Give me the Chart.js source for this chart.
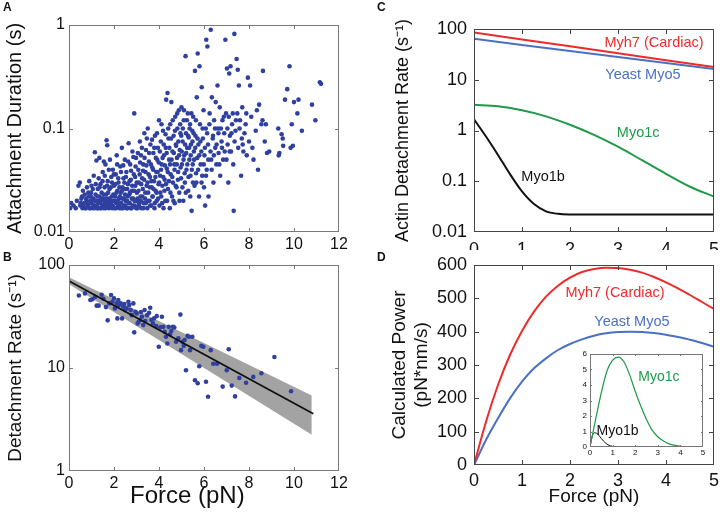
<!DOCTYPE html>
<html>
<head>
<meta charset="utf-8">
<script src="https://cdn.jsdelivr.net/npm/chart.js@4.4.1/dist/chart.umd.min.js"></script>
<style>
  html, body { margin: 0; padding: 0; background: #fff; }
  body { width: 720px; height: 512px; position: relative; overflow: hidden; font-family: "Liberation Sans", Arial, sans-serif; }
  canvas { position: absolute; }
  .tag { position: absolute; font-weight: bold; font-size: 12px; color: #111; }
</style>
</head>
<body>
<canvas id="chartA" width="360" height="250" style="left:0;top:0"></canvas>
<canvas id="chartB" width="360" height="262" style="left:0;top:250px"></canvas>
<canvas id="chartC" width="360" height="250" style="left:360px;top:0"></canvas>
<canvas id="chartD" width="360" height="262" style="left:360px;top:250px"></canvas>
<canvas id="chartInset" width="135" height="112" style="left:575px;top:346px"></canvas>
<div class="tag" style="left:3px;top:0px">A</div>
<div class="tag" style="left:3px;top:250px">B</div>
<div class="tag" style="left:377px;top:0px">C</div>
<div class="tag" style="left:377px;top:250px">D</div>
<script>
// ---- data ----
// panel A: [force pN, attachment duration s]
const attachPts = [
  [0.05,0.017],[0.1,0.019],[0.2,0.018],[0.3,0.017],[0.35,0.02],[0.42,0.028],[0.48,0.03],[0.5,0.018],[0.55,0.021],[0.6,0.017],
  [0.62,0.025],[0.68,0.019],[0.7,0.023],[0.75,0.017],[0.78,0.02],[0.8,0.027],[0.85,0.018],[0.88,0.022],[0.9,0.031],[0.92,0.017],
  [0.95,0.02],[0.98,0.024],[1.0,0.019],[1.0,0.028],
  [1.05,0.017],[1.08,0.021],[1.1,0.035],[1.12,0.018],[1.15,0.059],[1.18,0.023],[1.2,0.02],[1.22,0.049],[1.25,0.017],[1.28,0.026],
  [1.3,0.019],[1.32,0.033],[1.35,0.022],[1.35,0.052],[1.38,0.017],[1.4,0.029],[1.42,0.02],[1.45,0.024],[1.48,0.018],[1.5,0.038],
  [1.52,0.021],[1.55,0.017],[1.55,0.048],[1.58,0.027],[1.6,0.019],[1.62,0.045],[1.65,0.023],[1.67,0.077],[1.68,0.018],[1.7,0.069],
  [1.72,0.031],[1.75,0.02],[1.78,0.017],[1.8,0.026],[1.82,0.05],[1.85,0.019],[1.88,0.034],[1.9,0.022],[1.92,0.017],[1.95,0.04],
  [1.98,0.02],[2.0,0.028],
  [2.02,0.017],[2.05,0.022],[2.08,0.036],[2.1,0.019],[2.12,0.055],[2.15,0.025],[2.18,0.018],[2.2,0.03],[2.22,0.021],[2.25,0.017],
  [2.28,0.043],[2.3,0.024],[2.32,0.019],[2.35,0.065],[2.38,0.027],[2.4,0.017],[2.42,0.033],[2.45,0.021],[2.48,0.05],[2.5,0.018],
  [2.52,0.026],[2.55,0.038],[2.58,0.02],[2.6,0.017],[2.62,0.029],[2.65,0.072],[2.68,0.023],[2.7,0.019],[2.72,0.045],[2.75,0.032],
  [2.78,0.017],[2.8,0.025],[2.82,0.06],[2.85,0.021],[2.88,0.036],[2.9,0.14],[2.92,0.018],[2.95,0.028],[2.98,0.052],[3.0,0.02],
  [3.02,0.024],[3.05,0.017],[3.08,0.04],[3.1,0.03],[3.12,0.019],[3.15,0.075],[3.18,0.022],[3.2,0.055],[3.22,0.017],[3.25,0.033],
  [3.28,0.026],[3.3,0.045],[3.32,0.019],[3.35,0.09],[3.38,0.021],[3.4,0.038],[3.42,0.062],[3.45,0.028],[3.48,0.017],[3.5,0.1],
  [3.52,0.024],[3.55,0.048],[3.58,0.02],[3.6,0.034],[3.62,0.07],[3.65,0.018],[3.68,0.027],[3.7,0.042],[3.72,0.022],[3.75,0.058],
  [3.78,0.031],[3.8,0.017],[3.82,0.085],[3.85,0.025],[3.88,0.038],[3.9,0.02],[3.92,0.05],[3.95,0.065],[3.98,0.029],[4.0,0.12],
  [4.02,0.018],[4.05,0.035],[4.08,0.075],[4.1,0.022],[4.12,0.045],[4.15,0.028],[4.18,0.095],[4.2,0.017],[4.22,0.055],[4.25,0.032],
  [4.28,0.02],[4.3,0.065],[4.32,0.19],[4.35,0.041],[4.38,0.22],[4.4,0.026],[4.42,0.08],[4.45,0.05],[4.48,0.017],[4.5,0.11],
  [4.52,0.036],[4.55,0.18],[4.58,0.022],[4.6,0.06],[4.62,0.03],[4.65,0.085],[4.68,0.045],[4.7,0.019],[4.72,0.13],[4.75,0.07],
  [4.78,0.027],[4.8,0.052],[4.82,0.1],[4.85,0.038],[4.88,0.15],[4.9,0.024],[4.92,0.062],[4.95,0.09],[4.98,0.033],[5.0,0.16],
  [5.02,0.045],[5.05,0.075],[5.08,0.02],[5.1,0.12],[5.12,0.055],[5.15,0.03],[5.18,0.5],[5.2,0.09],[5.22,0.04],[5.25,0.065],
  [5.28,0.14],[5.3,0.025],[5.32,0.082],[5.35,0.05],[5.38,0.11],[5.4,0.035],[5.42,0.07],[5.45,0.016],[5.48,0.095],[5.5,0.045],
  [5.52,0.13],[5.55,0.06],[5.58,0.028],[5.6,0.36],[5.62,0.085],[5.65,0.037],[5.68,0.2],[5.7,0.052],[5.72,0.53],[5.75,0.07],
  [5.78,0.022],[5.8,0.4],[5.82,0.11],[5.85,0.045],[5.88,0.06],[5.9,0.25],[5.92,0.035],[5.95,0.08],[5.98,0.15],[6.0,0.027],
  [6.02,0.055],[6.05,0.018],[6.08,0.1],[6.1,0.72],[6.12,0.04],[6.15,0.62],[6.18,0.07],[6.2,0.022],[6.25,0.14],[6.3,0.9],
  [6.32,0.05],[6.35,0.2],[6.4,0.085],[6.42,0.03],[6.45,0.12],[6.5,0.065],[6.52,0.18],[6.55,0.045],[6.6,0.26],[6.62,0.1],
  [6.65,0.058],[6.7,0.16],[6.72,0.035],[6.78,0.075],[6.82,0.12],[6.85,0.05],[6.9,0.09],[6.95,0.72],[6.98,0.14],
  [7.0,0.05],[7.02,0.38],[7.05,0.07],[7.08,0.03],[7.1,0.13],[7.12,0.34],[7.15,0.085],[7.18,0.4],[7.2,0.06],[7.25,0.11],
  [7.3,0.045],[7.32,0.016],[7.35,0.82],[7.4,0.095],[7.45,0.47],[7.48,0.14],[7.5,0.37],[7.52,0.065],[7.55,0.26],[7.6,0.12],
  [7.65,0.035],[7.7,0.16],[7.72,0.07],[7.8,0.09],[7.85,0.11],[7.9,0.055],[7.95,0.31],[8.0,0.075],
  [8.05,0.26],[8.1,0.13],[8.15,0.065],[8.2,0.05],[8.3,0.095],[8.35,0.15],[8.4,0.04],[8.45,0.17],[8.55,0.11],[8.6,0.12],
  [8.62,0.36],[8.7,0.075],[8.75,0.11],[8.8,0.058],[8.9,0.06],
  [9.3,0.1],[9.32,0.055],[9.35,0.058],[9.45,0.088],[9.5,0.08],[9.52,0.068],[9.6,0.19],[9.7,0.24],[9.8,0.4],[9.85,0.065],
  [9.9,0.11],[9.95,0.068],[10.0,0.18],
  [10.15,0.14],[10.2,0.19],[10.35,0.095],[10.8,0.17],[10.95,0.12],[11.15,0.28],[11.2,0.27],
  // denser core of the cloud
  [0.52,0.019],[0.58,0.022],[0.64,0.018],[0.72,0.017],[0.76,0.021],[0.82,0.019],[0.86,0.024],[0.94,0.017],[0.97,0.022],[1.02,0.02],
  [1.06,0.026],[1.09,0.018],[1.13,0.017],[1.16,0.02],[1.19,0.029],[1.23,0.018],[1.26,0.022],[1.29,0.017],[1.33,0.02],[1.36,0.027],
  [1.39,0.019],[1.43,0.017],[1.46,0.021],[1.49,0.031],[1.51,0.018],
  [1.54,0.023],[1.57,0.02],[1.59,0.035],[1.63,0.017],[1.66,0.021],[1.69,0.028],[1.71,0.019],[1.74,0.024],[1.77,0.04],[1.79,0.021],
  [1.83,0.018],[1.86,0.027],[1.89,0.02],[1.91,0.03],[1.94,0.018],[1.97,0.023],[1.99,0.036],[2.03,0.02],[2.06,0.029],[2.09,0.017],
  [2.11,0.024],[2.14,0.045],[2.16,0.02],[2.19,0.033],[2.21,0.018],[2.24,0.027],[2.26,0.022],[2.29,0.019],[2.31,0.038],[2.33,0.017],
  [2.36,0.025],[2.39,0.021],[2.41,0.044],[2.44,0.018],[2.46,0.03],[2.49,0.023],
  [2.51,0.02],[2.53,0.034],[2.56,0.017],[2.59,0.026],[2.61,0.022],[2.63,0.048],[2.66,0.019],[2.69,0.031],[2.71,0.024],[2.74,0.017],
  [2.76,0.039],[2.79,0.021],[2.81,0.028],[2.84,0.018],[2.86,0.053],[2.89,0.025],[2.91,0.02],[2.94,0.034],[2.96,0.043],[2.99,0.017],
  [3.01,0.03],[3.04,0.021],[3.06,0.058],[3.09,0.025],[3.11,0.018],[3.14,0.036],[3.16,0.047],[3.19,0.02],[3.21,0.029],[3.24,0.065],
  [3.26,0.022],[3.29,0.039],[3.31,0.017],[3.34,0.032],[3.36,0.052],[3.39,0.024],[3.41,0.019],[3.44,0.044],[3.46,0.08],[3.49,0.03],
  [3.51,0.02],[3.54,0.036],[3.56,0.058],[3.59,0.027],[3.61,0.018],[3.64,0.045],[3.66,0.031],[3.69,0.078],[3.71,0.022],[3.74,0.04],
  [3.76,0.026],[3.79,0.065],[3.81,0.019],[3.84,0.034],[3.86,0.052],[3.89,0.024],[3.91,0.09],[3.94,0.038],[3.96,0.021],[3.99,0.047],
  [4.01,0.03],[4.04,0.06],[4.06,0.024],[4.09,0.04],[4.11,0.11],[4.14,0.019],[4.16,0.052],[4.19,0.034],[4.21,0.07],[4.24,0.025],
  [4.26,0.044],[4.29,0.088],[4.31,0.029],[4.34,0.058],[4.36,0.02],[4.39,0.038],[4.41,0.1],[4.44,0.031],[4.46,0.065],[4.49,0.045],
  [4.51,0.024],[4.54,0.08],[4.56,0.05],[4.59,0.034],[4.61,0.12],[4.64,0.02],[4.66,0.058],[4.69,0.04],[4.71,0.095],[4.74,0.028],
  [4.76,0.068],[4.79,0.045],[4.81,0.14],[4.84,0.032],[4.86,0.075],[4.89,0.055],[4.91,0.02],[4.94,0.11],[4.96,0.042],[4.99,0.085],
  [5.01,0.06],[5.04,0.027],[5.06,0.1],[5.09,0.05],[5.11,0.15],[5.14,0.037],[5.16,0.07],[5.19,0.024],[5.21,0.058],[5.24,0.12],
  [5.26,0.045],[5.29,0.085],[5.31,0.034],[5.34,0.065],[5.36,0.1],[5.39,0.022],[5.41,0.055],[5.44,0.14],[5.46,0.04],[5.49,0.075],
  [5.51,0.03],[5.54,0.09],[5.56,0.05],[5.61,0.065],[5.64,0.12],[5.66,0.03],[5.71,0.08],[5.74,0.04],[5.79,0.055],[5.84,0.075],
  [5.89,0.03],[5.94,0.1],[5.99,0.045],[6.04,0.065],[6.09,0.035],[6.14,0.09],[6.19,0.05],[6.24,0.11],[6.29,0.06],[6.34,0.04],
  [6.39,0.08],[6.44,0.055],[6.49,0.1],
  [6.56,0.07],[6.64,0.09],[6.68,0.045],[6.75,0.1],[6.8,0.065],[6.88,0.13],[6.92,0.06],[7.04,0.1],[7.14,0.06],[7.22,0.09],
  [7.28,0.14],[7.36,0.075],[7.42,0.12],[7.58,0.1],[7.68,0.08],[7.75,0.06],[7.88,0.14]
];

// panel B: [force pN, detachment rate 1/s]
const detachPts = [
  [0.44,50.5],[0.71,53],[0.95,45.7],[1.04,46.5],[1.16,49],[1.23,40.3],[1.32,40.3],[1.45,51.5],[1.53,47],[1.64,39],
  [1.72,29],[1.79,42.4],[1.87,51],[1.93,44],[2.0,47.4],[2.04,37.9],[2.12,42.4],[2.15,30.3],[2.19,45.7],[2.22,40.8],
  [2.3,42.4],[2.36,30.3],[2.41,39.3],[2.46,41.8],[2.49,36.5],[2.56,37.9],[2.64,44],[2.68,40.8],[2.74,36.5],[2.79,32.6],
  [2.86,42.4],[2.9,22.2],[2.95,35.2],[3.01,33.9],[3.05,27.1],[3.1,28.1],[3.16,29.2],[3.2,35],[3.24,31.4],[3.3,26.1],
  [3.36,36.5],[3.39,28.6],[3.47,32.6],[3.56,34.3],[3.61,38.4],[3.66,29.2],[3.73,27.1],[3.78,30.3],[3.87,25.5],[3.9,31.9],
  [3.99,16.1],[4.06,24.8],[4.13,31.4],[4.19,25.1],[4.25,22.5],[4.31,20.1],[4.37,17.3],[4.43,25.1],[4.49,21.3],[4.55,22.9],
  [4.62,25.1],[4.68,24.7],[4.76,18.0],[4.86,19.4],[4.95,33],[4.98,14.9],[5.04,18.0],[5.1,16.4],[5.14,18.7],[5.2,9.5],
  [5.27,20.5],[5.33,20.1],[5.38,14.9],[5.48,20.1],[5.6,7.6],[5.72,7.1],[5.79,10.4],[5.88,16.4],[5.97,16.1],[6.09,7.35],
  [6.18,5.25],[6.3,14.9],[6.41,11],[6.58,11],[6.83,6.6],[7.01,9.5],[7.1,15.2],[7.23,6.75],[7.38,5.3],[7.57,8.0],
  [7.87,7.2],[8.19,8.2],[8.55,8.9],[9.13,12.8],[9.87,5.95]
];
const fitForce = [0, 10.86];
const fitRate = [70, 3.6];
const bandForce = [0, 10.79];
const bandUpper = [76, 5.4];
const bandLower = [65, 2.25];

// panel C: detachment rate vs force
const rateForce = [0, 1, 2, 3, 4, 5];
const rateMyh7 = [85, 62, 45.5, 33.3, 24.3, 17.8];
const rateMyo5 = [64, 48.6, 36.9, 28.0, 21.3, 16.2];
const rateForce1c = [0, 0.5, 1, 1.5, 2, 2.5, 3, 3.5, 4, 4.5, 5];
const rateMyo1c = [3.2, 3.0, 2.5, 1.9, 1.3, 0.82, 0.48, 0.26, 0.14, 0.078, 0.05];
const rateForce1b = [0, 0.25, 0.5, 0.75, 1, 1.25, 1.5, 1.75, 2, 2.25, 2.5, 3, 4, 5];
const rateMyo1b = [1.66, 0.76, 0.33, 0.138, 0.063, 0.0355, 0.0255, 0.0228, 0.0221, 0.022, 0.022, 0.022, 0.022, 0.022];

// panel D: calculated power vs force
const powForce = [0, 0.25, 0.5, 0.75, 1, 1.25, 1.5, 1.75, 2, 2.25, 2.5, 2.75, 3, 3.25, 3.5, 3.75, 4, 4.25, 4.5, 4.75, 5];
const powMyh7 = [0, 130, 240, 330, 402, 460, 505, 538, 562, 579, 588, 592, 591, 586, 577, 564, 548, 530, 510, 489, 468];
const powMyo5 = [0, 75, 140, 200, 250, 290, 320, 345, 363, 377, 388, 395, 399, 400, 399, 396, 391, 384, 376, 366, 355];
// inset
const insetForce1c = [0, 0.25, 0.5, 0.75, 1, 1.25, 1.5, 1.75, 2, 2.25, 2.5, 2.75, 3, 3.25, 3.5, 3.75, 4, 4.25, 4.5, 4.75, 5];
const powMyo1c = [0, 1.8, 3.5, 4.9, 5.6, 5.8, 5.5, 4.67, 3.6, 2.63, 1.78, 1.09, 0.66, 0.38, 0.2, 0.1, 0.05, 0.02, 0.01, 0, 0];
const insetForce1b = [0, 0.1, 0.2, 0.3, 0.4, 0.5, 0.6, 0.7, 0.8, 0.9, 1.0, 1.2, 1.5, 2, 5];
const powMyo1b = [0, 0.7, 0.92, 0.88, 0.74, 0.55, 0.38, 0.24, 0.14, 0.08, 0.04, 0.015, 0, 0, 0];

const RED = "#ee2b2b", BLUE = "#4a70c6", GREEN = "#1e9a49", BLACK = "#111111", DOT = "#2f40a0";

Chart.defaults.font.family = '"Liberation Sans", Arial, sans-serif';
Chart.defaults.color = "#111";

const xy = (xs, ys) => xs.map((x, i) => ({ x: x, y: ys[i] }));
const pairs = (list) => list.map((p) => ({ x: p[0], y: p[1] }));

// box around plot + inward tick marks (matlab look)
const boxTicks = {
  id: "boxTicks",
  afterDatasetsDraw(chart, args, opts) {
    const { ctx, chartArea: a, scales } = chart;
    const len = opts.len || 4;
    ctx.save();
    ctx.strokeStyle = opts.color || "#777";
    ctx.lineWidth = 1;
    ctx.strokeRect(a.left + 0.5, a.top + 0.5, a.width - 1, a.height - 1);
    ctx.beginPath();
    scales.x.ticks.forEach((t) => {
      const px = Math.round(scales.x.getPixelForValue(t.value)) + 0.5;
      if (px < a.left + 2 || px > a.right - 2) return;
      ctx.moveTo(px, a.bottom); ctx.lineTo(px, a.bottom - len);
      ctx.moveTo(px, a.top); ctx.lineTo(px, a.top + len);
    });
    scales.y.ticks.forEach((t) => {
      const py = Math.round(scales.y.getPixelForValue(t.value)) + 0.5;
      if (py < a.top + 2 || py > a.bottom - 2) return;
      ctx.moveTo(a.left, py); ctx.lineTo(a.left + len, py);
      ctx.moveTo(a.right, py); ctx.lineTo(a.right - len, py);
    });
    ctx.stroke();
    ctx.restore();
  }
};

// curve name labels placed in data space
const noteText = {
  id: "noteText",
  afterDatasetsDraw(chart, args, opts) {
    const { ctx, scales } = chart;
    (opts.items || []).forEach((n) => {
      ctx.save();
      ctx.font = opts.font;
      ctx.fillStyle = n.color;
      ctx.textAlign = "center";
      ctx.textBaseline = "middle";
      ctx.fillText(n.text, scales.x.getPixelForValue(n.x), scales.y.getPixelForValue(n.y));
      ctx.restore();
    });
  }
};

const decades = (vals) => (s) => { s.ticks = vals.map((v) => ({ value: v })); };

function panel(id, cfg) {
  return new Chart(document.getElementById(id), {
    type: "line",
    data: { datasets: cfg.datasets },
    plugins: [boxTicks, noteText],
    options: {
      responsive: false,
      animation: false,
      events: [],
      layout: { padding: cfg.pad },
      plugins: {
        legend: { display: false },
        tooltip: { enabled: false },
        boxTicks: { color: cfg.boxColor, len: cfg.tickLen },
        noteText: { font: cfg.noteFont || "14.5px 'Liberation Sans', Arial, sans-serif", items: cfg.notes || [] }
      },
      scales: {
        x: Object.assign({
          type: "linear",
          grid: { display: false, drawTicks: false },
          border: { display: false },
          afterFit: (s) => { s.height = cfg.xH; s.paddingLeft = 0; s.paddingRight = 0; }
        }, cfg.x),
        y: Object.assign({
          grid: { display: false, drawTicks: false },
          border: { display: false },
          afterFit: (s) => { s.width = cfg.yW; s.paddingTop = 0; s.paddingBottom = 0; }
        }, cfg.y)
      }
    }
  });
}

// ---- A ----
panel("chartA", {
  pad: { top: 25, right: 21, left: 0, bottom: 0 },
  xH: 18, yW: 69, boxColor: "#7a7a7a", tickLen: 4,
  datasets: [{
    data: pairs(attachPts), showLine: false,
    pointRadius: 2.3, pointBackgroundColor: DOT, pointBorderWidth: 0
  }],
  x: { min: 0, max: 12, ticks: { stepSize: 2, padding: 3, maxRotation: 0, font: { size: 16 } } },
  y: {
    type: "logarithmic", min: 0.01, max: 1,
    afterBuildTicks: decades([0.01, 0.1, 1]),
    ticks: { padding: 4, font: { size: 16 }, callback: (v) => String(v) },
    title: { display: true, text: "Attachment Duration (s)", font: { size: 20 }, padding: { top: 3, bottom: 0 } }
  }
});

// ---- B ----
panel("chartB", {
  pad: { top: 15, right: 21, left: 0, bottom: 0 },
  xH: 41, yW: 69, boxColor: "#7a7a7a", tickLen: 4,
  datasets: [
    { data: xy(bandForce, bandUpper), borderWidth: 0, pointRadius: 0, fill: false, order: 4 },
    { data: xy(bandForce, bandLower), borderWidth: 0, pointRadius: 0, fill: "-1", backgroundColor: "#a3a3a3", order: 3 },
    { data: pairs(detachPts), showLine: false, pointRadius: 2.3, pointBackgroundColor: DOT, pointBorderWidth: 0, order: 2 },
    { data: xy(fitForce, fitRate), borderColor: BLACK, borderWidth: 1.8, pointRadius: 0, order: 1 }
  ],
  x: {
    min: 0, max: 12,
    ticks: { stepSize: 2, padding: 3, maxRotation: 0, font: { size: 16 } },
    title: { display: true, text: "Force (pN)     ", font: { size: 24 }, padding: { top: 0, bottom: 1 } }
  },
  y: {
    type: "logarithmic", min: 1, max: 100,
    afterBuildTicks: decades([1, 10, 100]),
    ticks: { padding: 4, font: { size: 16 }, callback: (v) => String(v) },
    title: { display: true, text: "Detachment Rate (s\u207B\u00B9)", font: { size: 19 }, padding: { top: 4, bottom: 0 } }
  }
});

// ---- C ----
panel("chartC", {
  pad: { top: 29, right: 6, left: 0, bottom: 0 },
  xH: 18, yW: 114, boxColor: "#444", tickLen: 5,
  datasets: [
    { data: xy(rateForce, rateMyh7), borderColor: RED, borderWidth: 2, pointRadius: 0 },
    { data: xy(rateForce, rateMyo5), borderColor: BLUE, borderWidth: 2, pointRadius: 0 },
    { data: xy(rateForce1c, rateMyo1c), borderColor: GREEN, borderWidth: 2, pointRadius: 0, cubicInterpolationMode: "monotone" },
    { data: xy(rateForce1b, rateMyo1b), borderColor: BLACK, borderWidth: 2, pointRadius: 0, cubicInterpolationMode: "monotone" }
  ],
  notes: [
    { text: "Myh7 (Cardiac)", x: 3.75, y: 53, color: RED },
    { text: "Yeast Myo5", x: 3.52, y: 12.4, color: BLUE },
    { text: "Myo1c", x: 3.42, y: 0.89, color: GREEN },
    { text: "Myo1b", x: 1.44, y: 0.121, color: BLACK }
  ],
  x: { min: 0, max: 5, ticks: { stepSize: 1, padding: 7, maxRotation: 0, font: { size: 18 } } },
  y: {
    type: "logarithmic", min: 0.01, max: 100,
    afterBuildTicks: decades([0.01, 0.1, 1, 10, 100]),
    ticks: { padding: 7, font: { size: 18 }, callback: (v) => String(v) },
    title: { display: true, text: "Actin Detachment Rate (s\u207B\u00B9)", font: { size: 18 }, padding: { top: 32, bottom: 0 } }
  }
});

// ---- D ----
panel("chartD", {
  pad: { top: 15, right: 6, left: 0, bottom: 0 },
  xH: 47, yW: 114, boxColor: "#444", tickLen: 5,
  datasets: [
    { data: xy(powForce, powMyh7), borderColor: RED, borderWidth: 2, pointRadius: 0, cubicInterpolationMode: "monotone" },
    { data: xy(powForce, powMyo5), borderColor: BLUE, borderWidth: 2, pointRadius: 0, cubicInterpolationMode: "monotone" }
  ],
  notes: [
    { text: "Myh7 (Cardiac)", x: 2.94, y: 516, color: RED },
    { text: "Yeast Myo5", x: 3.29, y: 429, color: BLUE }
  ],
  x: {
    min: 0, max: 5,
    ticks: { stepSize: 1, padding: 5, maxRotation: 0, font: { size: 18 } },
    title: { display: true, text: "Force (pN)", font: { size: 19 }, padding: { top: 0, bottom: 4 } }
  },
  y: {
    min: 0, max: 600,
    ticks: { stepSize: 100, padding: 7, font: { size: 18 } },
    title: { display: true, text: ["Calculated Power", "(pN*nm/s)"], font: { size: 19, lineHeight: 1.15 }, padding: { top: 29, bottom: 0 } }
  }
});

// ---- D inset ----
panel("chartInset", {
  pad: { top: 8, right: 7, left: 0, bottom: 0 },
  xH: 11, yW: 15, boxColor: "#777", tickLen: 2,
  noteFont: "14px 'Liberation Sans', Arial, sans-serif",
  datasets: [
    { data: xy(insetForce1c, powMyo1c), borderColor: GREEN, borderWidth: 1.2, pointRadius: 0, cubicInterpolationMode: "monotone" },
    { data: xy(insetForce1b, powMyo1b), borderColor: BLACK, borderWidth: 1, pointRadius: 0, cubicInterpolationMode: "monotone" }
  ],
  notes: [
    { text: "Myo1c", x: 3.05, y: 4.48, color: GREEN },
    { text: "Myo1b", x: 1.22, y: 1.03, color: BLACK }
  ],
  x: { min: 0, max: 5, ticks: { stepSize: 1, padding: 1, maxRotation: 0, font: { size: 8 } } },
  y: { min: 0, max: 6, ticks: { stepSize: 1, padding: 3, font: { size: 8 } } }
});
</script>
</body>
</html>
